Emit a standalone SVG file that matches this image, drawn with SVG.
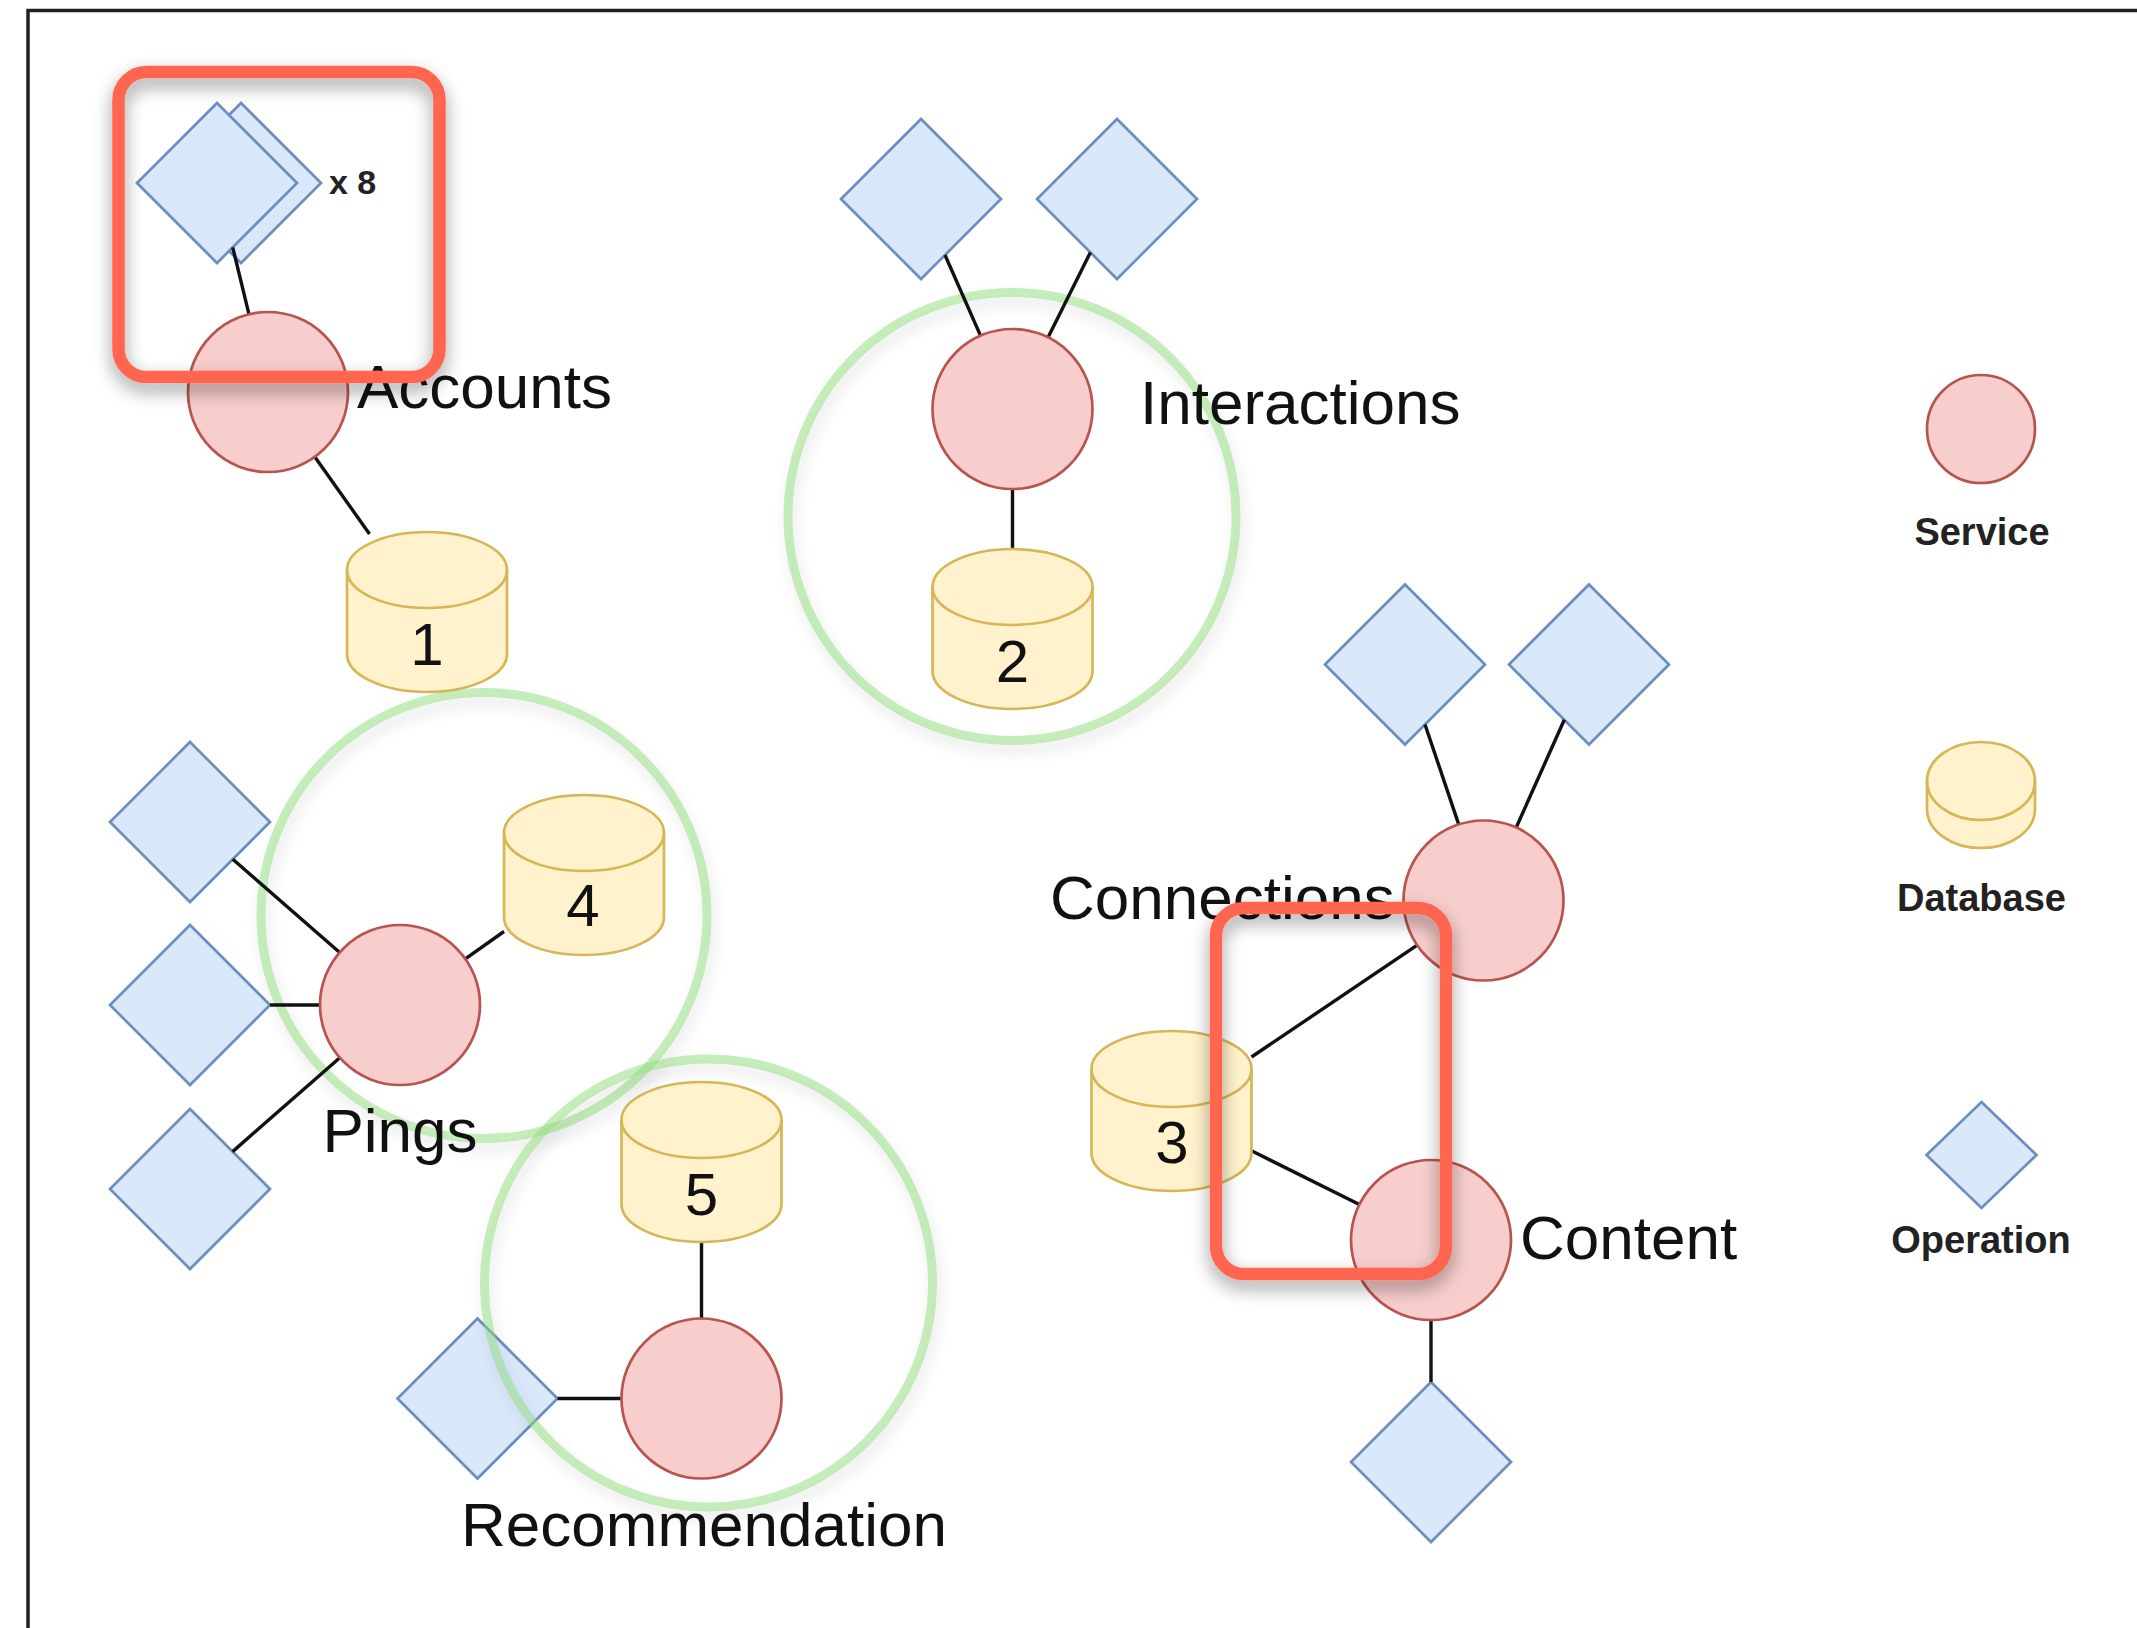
<svg xmlns="http://www.w3.org/2000/svg" width="2137" height="1628" viewBox="0 0 2137 1628">
<defs>
<filter id="shGreen" x="-20%" y="-20%" width="140%" height="140%">
<feDropShadow dx="3" dy="8" stdDeviation="7" flood-color="#000" flood-opacity="0.18"/>
</filter>
<filter id="shRed" x="-30%" y="-30%" width="160%" height="160%">
<feDropShadow dx="0" dy="8" stdDeviation="9" flood-color="#000" flood-opacity="0.4"/>
</filter>
</defs>
<style>
.op{fill:#dae8fc;stroke:#6c8ebf;stroke-width:2.7;stroke-linejoin:miter}
.svc{fill:#f8cecc;stroke:#b85450;stroke-width:2.7}
.db{fill:#fff2cc;stroke:#d6b656;stroke-width:2.7}
.dbf{fill:none;stroke:#d6b656;stroke-width:2.7}
.grp{fill:none;stroke:#8fdb7a;stroke-opacity:0.5;stroke-width:9}
.ln{stroke:#111;stroke-width:3.4;fill:none}
.lbl{font-family:"Liberation Sans",Arial,Helvetica,sans-serif;font-size:62px;fill:#111}
.num{font-family:"Liberation Sans",Arial,Helvetica,sans-serif;font-size:60px;fill:#111;text-anchor:middle}
.leg{font-family:"Liberation Sans",Arial,Helvetica,sans-serif;font-size:38px;font-weight:bold;fill:#222;text-anchor:middle}
.hl{fill:none;stroke:#ff6550;stroke-width:12.5}
</style>
<rect width="2137" height="1628" fill="#fff"/>
<path d="M28,1640 V10.5 H2150" fill="none" stroke="#222" stroke-width="3.5"/>

<g id="accounts-op">
<polygon class="op" points="241,103 321,183 241,263 161,183"/>
<polygon class="op" points="217,103 297,183 217,263 137,183"/>
<text x="329" y="194" style="font-family:'Liberation Sans',Arial,sans-serif;font-size:34px;font-weight:bold;fill:#222">x 8</text>
</g>
<g id="interactions-op1"><polygon class="op" points="921,119 1001,199 921,279 841,199"/></g>
<g id="interactions-op2"><polygon class="op" points="1117,119 1197,199 1117,279 1037,199"/></g>
<g id="pings-op1"><polygon class="op" points="190,742 270,822 190,902 110,822"/></g>
<g id="pings-op2"><polygon class="op" points="190,925 270,1005 190,1085 110,1005"/></g>
<g id="pings-op3"><polygon class="op" points="190,1109 270,1189 190,1269 110,1189"/></g>
<g id="recommendation-op"><polygon class="op" points="477.5,1318.5 557.5,1398.5 477.5,1478.5 397.5,1398.5"/></g>
<g id="connections-op1"><polygon class="op" points="1405,584.5 1485,664.5 1405,744.5 1325,664.5"/></g>
<g id="connections-op2"><polygon class="op" points="1589,584.5 1669,664.5 1589,744.5 1509,664.5"/></g>
<g id="content-op"><polygon class="op" points="1431,1382 1511,1462 1431,1542 1351,1462"/></g>

<g id="group-interactions" filter="url(#shGreen)"><circle class="grp" cx="1012" cy="516.5" r="224"/></g>
<g id="group-pings" filter="url(#shGreen)"><circle class="grp" cx="484" cy="915.5" r="223"/></g>
<g id="group-recommendation" filter="url(#shGreen)"><circle class="grp" cx="708.5" cy="1283" r="224"/></g>

<g id="connectors">
<line class="ln" x1="232.7" y1="247.3" x2="249" y2="314.3"/>
<line class="ln" x1="314.9" y1="456.9" x2="369.5" y2="534"/>
<line class="ln" x1="945" y1="255" x2="980.5" y2="335.6"/>
<line class="ln" x1="1090.4" y1="252.4" x2="1048" y2="337.4"/>
<line class="ln" x1="1012.5" y1="489" x2="1012.5" y2="551"/>
<line class="ln" x1="232.8" y1="859.3" x2="339.7" y2="952.5"/>
<line class="ln" x1="270" y1="1005" x2="320" y2="1005"/>
<line class="ln" x1="232.6" y1="1151.6" x2="339.8" y2="1057.7"/>
<line class="ln" x1="465.3" y1="958.8" x2="504" y2="931.5"/>
<line class="ln" x1="701.5" y1="1240" x2="701.5" y2="1318.5"/>
<line class="ln" x1="557.5" y1="1398.5" x2="621.5" y2="1398.5"/>
<line class="ln" x1="1425" y1="724.5" x2="1458.8" y2="824.6"/>
<line class="ln" x1="1564.3" y1="719.8" x2="1516.2" y2="827.5"/>
<line class="ln" x1="1251.5" y1="1057" x2="1417.2" y2="945.2"/>
<line class="ln" x1="1251.5" y1="1150.8" x2="1359.4" y2="1204.4"/>
<line class="ln" x1="1431" y1="1320" x2="1431" y2="1382"/>
</g>

<g id="accounts"><circle class="svc" cx="268" cy="392" r="80"/><text class="lbl" x="357" y="408">Accounts</text></g>
<g id="interactions"><circle class="svc" cx="1012.5" cy="409" r="80"/><text class="lbl" x="1140" y="424">Interactions</text></g>
<g id="pings"><circle class="svc" cx="400" cy="1005" r="80"/><text class="lbl" x="400" y="1152" text-anchor="middle">Pings</text></g>
<g id="recommendation"><circle class="svc" cx="701.5" cy="1398.5" r="80"/><text class="lbl" x="704" y="1546" text-anchor="middle">Recommendation</text></g>
<g id="connections"><circle class="svc" cx="1483.5" cy="900.5" r="80"/><text class="lbl" x="1050" y="919">Connections</text></g>
<g id="content"><circle class="svc" cx="1431" cy="1240" r="80"/><text class="lbl" x="1520" y="1259">Content</text></g>

<g id="db1"><path class="db" d="M347,570 A80,38 0 0 1 507,570 V654 A80,38 0 0 1 347,654 Z"/><path class="dbf" d="M347,570 A80,38 0 0 0 507,570"/><text class="num" x="427" y="665">1</text></g>
<g id="db2"><path class="db" d="M932.5,587 A80,38 0 0 1 1092.5,587 V671 A80,38 0 0 1 932.5,671 Z"/><path class="dbf" d="M932.5,587 A80,38 0 0 0 1092.5,587"/><text class="num" x="1012.5" y="682">2</text></g>
<g id="db3"><path class="db" d="M1091.5,1069 A80,38 0 0 1 1251.5,1069 V1153 A80,38 0 0 1 1091.5,1153 Z"/><path class="dbf" d="M1091.5,1069 A80,38 0 0 0 1251.5,1069"/><text class="num" x="1172" y="1163">3</text></g>
<g id="db4"><path class="db" d="M504,833 A80,38 0 0 1 664,833 V917 A80,38 0 0 1 504,917 Z"/><path class="dbf" d="M504,833 A80,38 0 0 0 664,833"/><text class="num" x="583" y="926">4</text></g>
<g id="db5"><path class="db" d="M621.5,1120 A80,38 0 0 1 781.5,1120 V1204 A80,38 0 0 1 621.5,1204 Z"/><path class="dbf" d="M621.5,1120 A80,38 0 0 0 781.5,1120"/><text class="num" x="701.5" y="1215">5</text></g>

<g id="legend-service"><circle class="svc" cx="1981" cy="429" r="54"/><text class="leg" x="1982" y="545">Service</text></g>
<g id="legend-database"><path class="db" d="M1927,781 A54,39 0 0 1 2035,781 V809 A54,39 0 0 1 1927,809 Z"/><path class="dbf" d="M1927,781 A54,39 0 0 0 2035,781"/><text class="leg" x="1981.5" y="911">Database</text></g>
<g id="legend-operation"><polygon class="op" points="1981.5,1102 2036.5,1155 1981.5,1208 1926.5,1155"/><text class="leg" x="1981" y="1253">Operation</text></g>

<g id="highlight-1" filter="url(#shRed)"><rect class="hl" x="118.5" y="72" width="321" height="305" rx="28"/></g>
<g id="highlight-2" filter="url(#shRed)"><rect class="hl" x="1216" y="908" width="230" height="366" rx="28"/></g>
</svg>
